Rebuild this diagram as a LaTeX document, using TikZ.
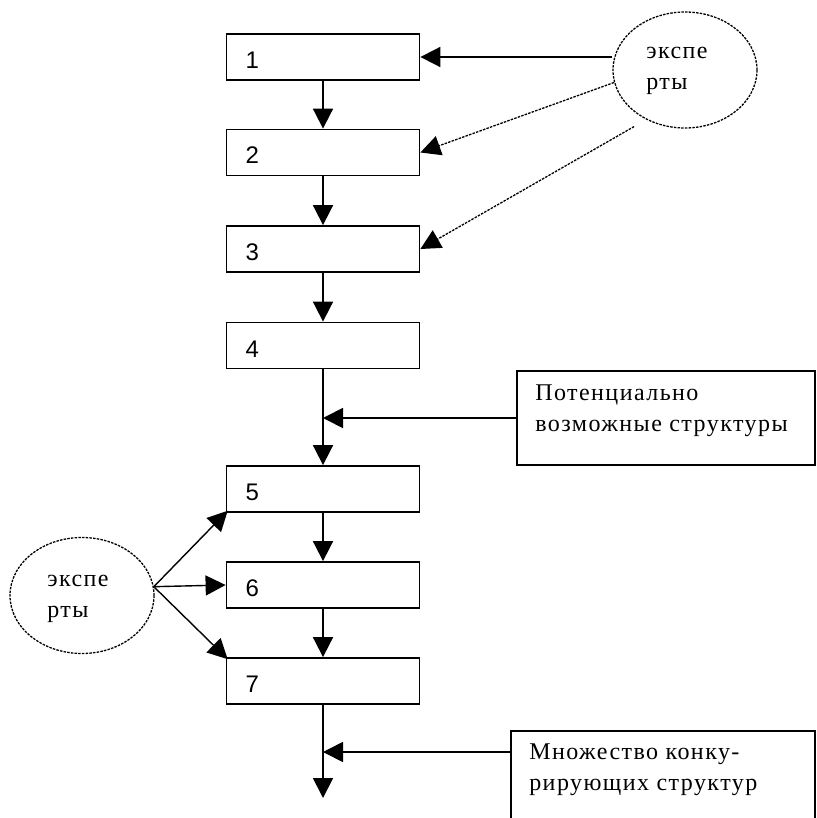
\documentclass[tikz,border=0pt]{standalone}
\usepackage{fontspec}
\setmainfont{Liberation Serif}[LetterSpace=6]
\newfontfamily\digitfont{Liberation Sans}
\usetikzlibrary{arrows.meta,shapes.geometric}
\begin{document}
\begin{tikzpicture}[x=1pt,y=-1pt,
  txt/.style={font=\fontsize{24}{31}\selectfont},
  stepbox/.style={draw, line width=1.8pt, minimum width=193pt, minimum height=46pt,
    inner xsep=19pt, text width=155pt, text height=23pt, text depth=0pt, align=left,
    font=\digitfont\fontsize{24}{28}\selectfont},
  sidebox/.style={draw, line width=1.8pt, inner sep=0pt},
  sidetext/.style={txt, anchor=north west, inner sep=0pt, align=left},
  expert/.style={ellipse, draw, line width=1.3pt, dash pattern=on 2.5pt off 1.2pt,
    minimum width=144pt, minimum height=116pt, inner sep=0pt},
  experttext/.style={txt, align=left, inner sep=0pt},
  arr/.style={line width=1.8pt, -{Triangle[length=20pt,width=20pt]}},
  dashline/.style={line width=1.3pt, dash pattern=on 2.5pt off 1.2pt},
]
\useasboundingbox (0,0) rectangle (816,818);
\fill[white] (0,0) rectangle (816,818);

% main chain of steps
\node[stepbox] (b1) at (323,57) {1};
\node[stepbox] (b2) at (323,152.5) {2};
\node[stepbox] (b3) at (323,249) {3};
\node[stepbox] (b4) at (323,345.5) {4};
\node[stepbox] (b5) at (323,489) {5};
\node[stepbox] (b6) at (323,585) {6};
\node[stepbox] (b7) at (323,681) {7};

% experts
\node[expert, label={[experttext, xshift=-8pt, yshift=-1pt]center:{экспе\\рты}}] (ex) at (685,70) {};
\node[expert, label={[experttext, xshift=-4pt, yshift=-3pt]center:{экспе\\рты}}] (el) at (82,595.5) {};

% side inputs
\node[sidebox, minimum width=298pt, minimum height=94pt,
  label={[sidetext, xshift=19pt, yshift=-14pt]north west:{Потенциально\\возможные структуры}}]
  (pot) at (666,418) {};
\node[sidebox, minimum width=304pt, minimum height=109pt,
  label={[sidetext, xshift=19pt, yshift=-13pt]north west:{Множество конку-\\рирующих структур}}]
  (mk) at (663,785.5) {};

\coordinate (j1) at (323,418);
\coordinate (j2) at (323,752);
\coordinate (out) at (323,798);

% flow
\draw[arr] (b1) -- (b2);
\draw[arr] (b2) -- (b3);
\draw[arr] (b3) -- (b4);
\draw[arr] (b4) -- (b5);
\draw[arr] (b5) -- (b6);
\draw[arr] (b6) -- (b7);
\draw[arr] (b7) -- (out);
\draw[arr] (pot) -- (j1);
\draw[arr] (j2 -| mk.west) -- (j2);

% expert inputs
\draw[arr] (ex.west |- b1.east) -- (b1.east);
\draw[arr, dashline] (ex.190) -- (b2.east);
\draw[arr, dashline, shorten <=14pt] (ex.232) -- (b3.east);
\draw[arr, line width=1.4pt, shorten >=-3pt] (el.7) -- (b5.south west);
\draw[arr, line width=1.4pt] (el.7) -- (b6.west);
\draw[arr, line width=1.4pt, shorten >=-3pt] (el.7) -- (b7.north west);
\end{tikzpicture}
\end{document}
